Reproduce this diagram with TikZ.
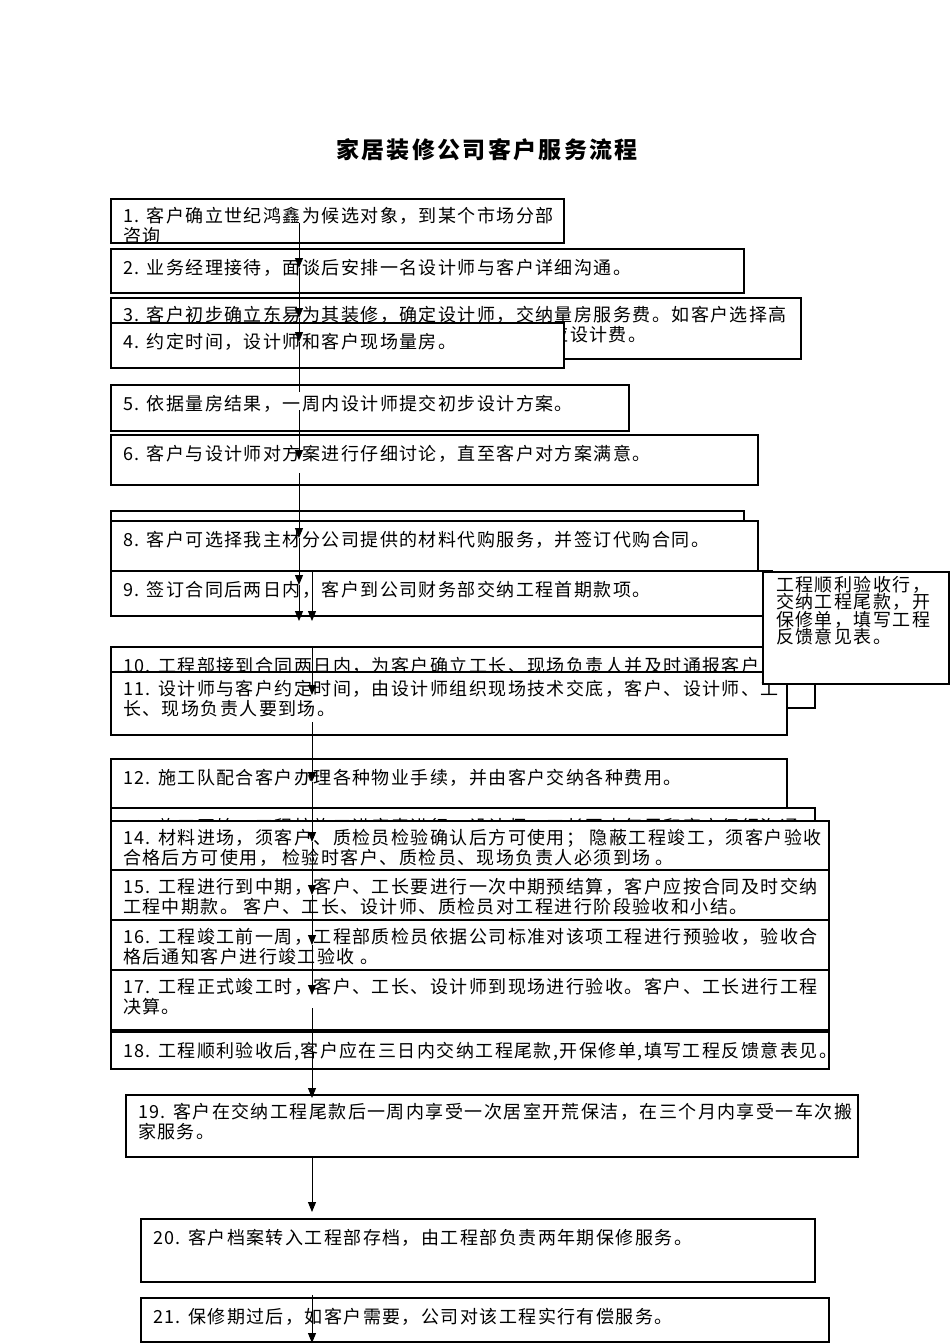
\documentclass[tikz,border=0pt]{standalone}
\usepackage{fontspec}
\setmainfont{Noto Sans CJK SC}[LetterSpace=8]
\usetikzlibrary{arrows.meta}
\tikzset{
  boxst/.style={draw=black, line width=1.1pt, fill=white, rectangle, inner sep=0pt, outer sep=0pt, anchor=north west},
  txt/.style={anchor=north west, inner sep=0pt, outer sep=0pt, align=left, draw=none, fill=none,
    minimum width=0pt, minimum height=0pt,
    font=\fontsize{18}{20.5}\selectfont, execute at begin node={\rule{0pt}{17.5pt}}},
  sidetxt/.style={txt, font=\fontsize{18}{17.5}\selectfont},
  arr/.style={line width=1pt, -{Triangle[width=8pt,length=10pt]}},
  ln/.style={line width=1pt},
}
% name, left, top, right, bottom, text
\newcommand{\flowbox}[6]{%
  \pgfmathsetmacro\fbW{#4-#2}\pgfmathsetmacro\fbH{#5-#3}%
  \node[boxst, minimum width=\fbW pt, minimum height=\fbH pt,
    path picture={\node[txt] (#1t) at ([shift={(12pt,-8pt)}]path picture bounding box.north west) {#6};}]
    (#1) at (#2,-#3) {};}
\begin{document}
\begin{tikzpicture}[x=1pt,y=1pt]
\useasboundingbox (0,0) rectangle (950,-1344);
\fill[white] (0,0) rectangle (950,-1344);

\node[font=\fontsize{23}{26}\selectfont\bfseries\addfontfeature{LetterSpace=10}] (title) at (487,-150) {家居装修公司客户服务流程};

\flowbox{b1}{111}{199}{564}{243}{1. 客户确立世纪鸿鑫为候选对象，到某个市场分部\\咨询}
\flowbox{b2}{111}{249}{744}{293}{2. 业务经理接待，面谈后安排一名设计师与客户详细沟通。}
\flowbox{b3}{111}{298}{801}{359}{3. 客户初步确立东易为其装修，确定设计师，交纳量房服务费。如客户选择高\\端设计师，须在交纳量房服务费的同时另行交纳相应设计费。}
\flowbox{b4}{111}{323}{564}{368}{4. 约定时间，设计师和客户现场量房。}
\flowbox{b5}{111}{385}{629}{431}{5. 依据量房结果，一周内设计师提交初步设计方案。}
\flowbox{b6}{111}{435}{758}{485}{6. 客户与设计师对方案进行仔细讨论，直至客户对方案满意。}
\flowbox{b7}{111}{511}{744}{560}{7. 客户与设计师签订正式施工合同，而后设计师提交全套设计图纸。}
\flowbox{b8}{111}{521}{758}{571}{8. 客户可选择我主材分公司提供的材料代购服务，并签订代购合同。}
\flowbox{b9}{111}{571}{772}{616}{9. 签订合同后两日内，客户到公司财务部交纳工程首期款项。}
\node[boxst, minimum width=704pt, minimum height=61pt,
  path picture={
    \node[txt] (b10t) at ([shift={(12pt,-8pt)}]path picture bounding box.north west) {10. 工程部接到合同两日内，为客户确立工长、现场负责人并及时通报客户};
    \node[txt, anchor=base west, execute at begin node={}] (b10m) at (795,-694) {监};
  }] (b10) at (111,-647) {};
\flowbox{b11}{111}{672}{787}{735}{11. 设计师与客户约定时间，由设计师组织现场技术交底，客户、设计师、工\\长、现场负责人要到场。}
\node[boxst, minimum width=186pt, minimum height=112pt,
  path picture={\node[sidetxt] (st) at ([shift={(13pt,-4pt)}]path picture bounding box.north west) {工程顺利验收行，\\交纳工程尾款，开\\保修单，填写工程\\反馈意见表。};}]
  (side) at (763,-572) {};
\flowbox{b12}{111}{759}{787}{808}{12. 施工队配合客户办理各种物业手续，并由客户交纳各种费用。}
\flowbox{b13}{111}{808}{815}{850}{13. 施工开始，工程按施工进度表进行，设计师、工长至少每周和客户仔细沟通}
\flowbox{b14}{111}{821}{829}{870}{14. 材料进场，须客户、质检员检验确认后方可使用； 隐蔽工程竣工，须客户验收\\合格后方可使用， 检验时客户、质检员、现场负责人必须到场 。}
\flowbox{b15}{111}{870}{829}{920}{15. 工程进行到中期，客户、工长要进行一次中期预结算，客户应按合同及时交纳\\工程中期款。 客户、工长、设计师、质检员对工程进行阶段验收和小结。}
\flowbox{b16}{111}{920}{829}{970}{16. 工程竣工前一周，工程部质检员依据公司标准对该项工程进行预验收，验收合\\格后通知客户进行竣工验收 。}
\flowbox{b17}{111}{970}{829}{1030}{17. 工程正式竣工时，客户、工长、设计师到现场进行验收。客户、工长进行工程\\决算。}
\flowbox{b18}{111}{1032}{829}{1069}{18. 工程顺利验收后,客户应在三日内交纳工程尾款,开保修单,填写工程反馈意表见。}
\flowbox{b19}{126}{1095}{858}{1157}{19. 客户在交纳工程尾款后一周内享受一次居室开荒保洁，在三个月内享受一车次搬\\家服务。}
\flowbox{b20}{141}{1219}{815}{1282}{20. 客户档案转入工程部存档，由工程部负责两年期保修服务。}
\flowbox{b21}{141}{1298}{829}{1342}{21. 保修期过后，如客户需要，公司对该工程实行有偿服务。}

% connector points
\coordinate (pa1) at (299,-223);
\coordinate (pa2) at (299,-268);
\coordinate (pa3) at (299,-318);
\coordinate (pa4) at (299,-342);
\coordinate (pa5) at (299,-392);
\coordinate (pa6) at (299,-410);
\coordinate (pa7) at (299,-460);
\coordinate (pa8) at (299,-473);
\coordinate (pa9) at (299,-538);
\coordinate (pa10) at (299,-585);
\coordinate (pa11) at (299,-621);
\coordinate (pb1) at (312,-572);
\coordinate (pb2) at (312,-621);
\coordinate (pb3) at (312,-647);
\coordinate (pb4) at (312,-695);
\coordinate (pb5) at (312,-722);
\coordinate (pb6) at (312,-782);
\coordinate (pb7) at (312,-842);
\coordinate (pb8) at (312,-895);
\coordinate (pb9) at (312,-945);
\coordinate (pb10) at (312,-995);
\coordinate (pb11) at (312,-1008);
\coordinate (pb12) at (312,-1098);
\coordinate (pb13) at (312,-1157);
\coordinate (pb14) at (312,-1212);
\coordinate (pb15) at (312,-1295);
\coordinate (pb16) at (312,-1343);

\draw[arr] (pa1) -- (pa2);
\draw[arr] (pa2) -- (pa3);
\draw[arr] (pa3) -- (pa4);
\draw[ln] (pa4) -- (pa5);
\draw[arr] (pa6) -- (pa7);
\draw[arr] (pa8) -- (pa9);
\draw[arr] (pa9) -- (pa10);
\draw[arr] (pa10) -- (pa11);
\draw[arr] (pb1) -- (pb2);
\draw[arr] (pb3) -- (pb4);
\draw[arr] (pb5) -- (pb6);
\draw[arr] (pb6) -- (pb7);
\draw[arr] (pb7) -- (pb8);
\draw[arr] (pb8) -- (pb9);
\draw[arr] (pb9) -- (pb10);
\draw[arr] (pb11) -- (pb12);
\draw[arr] (pb13) -- (pb14);
\draw[arr] (pb15) -- (pb16);
\end{tikzpicture}
\end{document}
